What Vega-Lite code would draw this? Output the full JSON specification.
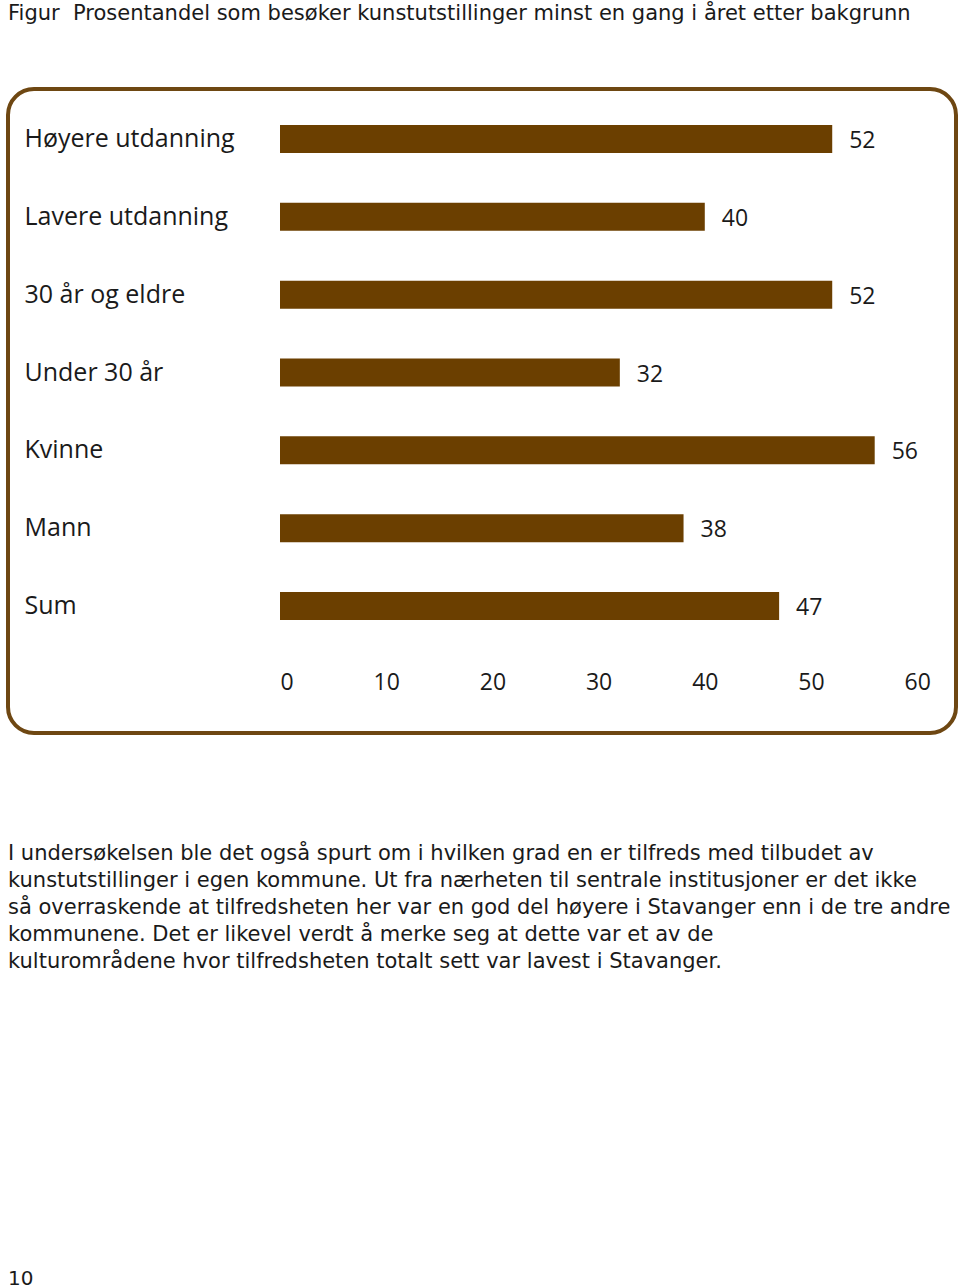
{
  "$schema": "https://vega.github.io/schema/vega-lite/v6.json",
  "padding": {"left": 6, "top": 3, "right": 4, "bottom": 0},
  "background": "white",
  "title": {
    "text": "Figur\u00a0\u00a0Prosentandel som besøker kunstutstillinger minst en gang i året etter bakgrunn",
    "anchor": "start",
    "frame": "group",
    "font": "DejaVu Sans",
    "fontSize": 21,
    "fontWeight": "normal",
    "color": "#1a1a1a",
    "offset": 63
  },
  "config": {
    "font": "Open Sans",
    "view": {"stroke": null}
  },
  "vconcat": [
    {
      "vconcat": [
        {
          "width": 948,
          "height": 644,
          "view": {"stroke": "#6e4712", "strokeWidth": 4, "cornerRadius": 26, "fill": "white"},
          "data": {
            "values": [
              {"gruppe": "Høyere utdanning", "andel": 52},
              {"gruppe": "Lavere utdanning", "andel": 40},
              {"gruppe": "30 år og eldre", "andel": 52},
              {"gruppe": "Under 30 år", "andel": 32},
              {"gruppe": "Kvinne", "andel": 56},
              {"gruppe": "Mann", "andel": 38},
              {"gruppe": "Sum", "andel": 47}
            ]
          },
          "encoding": {
            "y": {
              "field": "gruppe",
              "type": "nominal",
              "sort": null,
              "scale": {"range": [11, 556], "paddingInner": 0.64, "paddingOuter": 0.32},
              "axis": {
                "title": null,
                "domain": false,
                "ticks": false,
                "tickSize": 0,
                "labelAlign": "left",
                "labelPadding": -16,
                "labelLimit": 0,
                "labelFontSize": 25,
                "labelColor": "#1a1a1a",
                "labelOffset": 0,
                "labelFont": "Open Sans"
              }
            },
            "x": {
              "field": "andel",
              "type": "quantitative",
              "scale": {"domain": [0, 61], "range": [272, 919.8]},
              "axis": {
                "title": null,
                "values": [0, 10, 20, 30, 40, 50, 60],
                "domain": false,
                "ticks": false,
                "tickSize": 0,
                "grid": false,
                "offset": -51,
                "labelPadding": 0,
                "labelBaseline": "middle",
                "labelFontSize": 23,
                "labelColor": "#1a1a1a",
                "labelFont": "Open Sans"
              }
            }
          },
          "layer": [
            {"mark": {"type": "bar", "color": "#6b3f00"}},
            {
              "mark": {"type": "text", "align": "left", "baseline": "middle", "dx": 17, "dy": 2, "fontSize": 23, "color": "#1a1a1a"},
              "encoding": {"text": {"field": "andel", "type": "quantitative"}}
            }
          ]
        },
        {
          "width": 948,
          "height": 135,
          "data": {
            "values": [
              {"linje": 1, "tekst": "I undersøkelsen ble det også spurt om i hvilken grad en er tilfreds med tilbudet av"},
              {"linje": 2, "tekst": "kunstutstillinger i egen kommune. Ut fra nærheten til sentrale institusjoner er det ikke"},
              {"linje": 3, "tekst": "så overraskende at tilfredsheten her var en god del høyere i Stavanger enn i de tre andre"},
              {"linje": 4, "tekst": "kommunene. Det er likevel verdt å merke seg at dette var et av de"},
              {"linje": 5, "tekst": "kulturområdene hvor tilfredsheten totalt sett var lavest i Stavanger."}
            ]
          },
          "mark": {"type": "text", "align": "left", "baseline": "middle", "font": "DejaVu Sans", "fontSize": 21, "color": "#1a1a1a"},
          "encoding": {
            "y": {"field": "linje", "type": "ordinal", "axis": null, "scale": {"type": "point", "padding": 0.5}},
            "x": {"value": 0},
            "text": {"field": "tekst", "type": "nominal"}
          }
        }
      ],
      "spacing": 105
    },
    {
      "width": 948,
      "height": 24,
      "data": {"values": [{"side": "10"}]},
      "mark": {"type": "text", "align": "left", "baseline": "middle", "font": "DejaVu Sans", "fontSize": 20, "color": "#1a1a1a"},
      "encoding": {
        "x": {"value": 0},
        "text": {"field": "side", "type": "nominal"}
      }
    }
  ],
  "spacing": 292
}
